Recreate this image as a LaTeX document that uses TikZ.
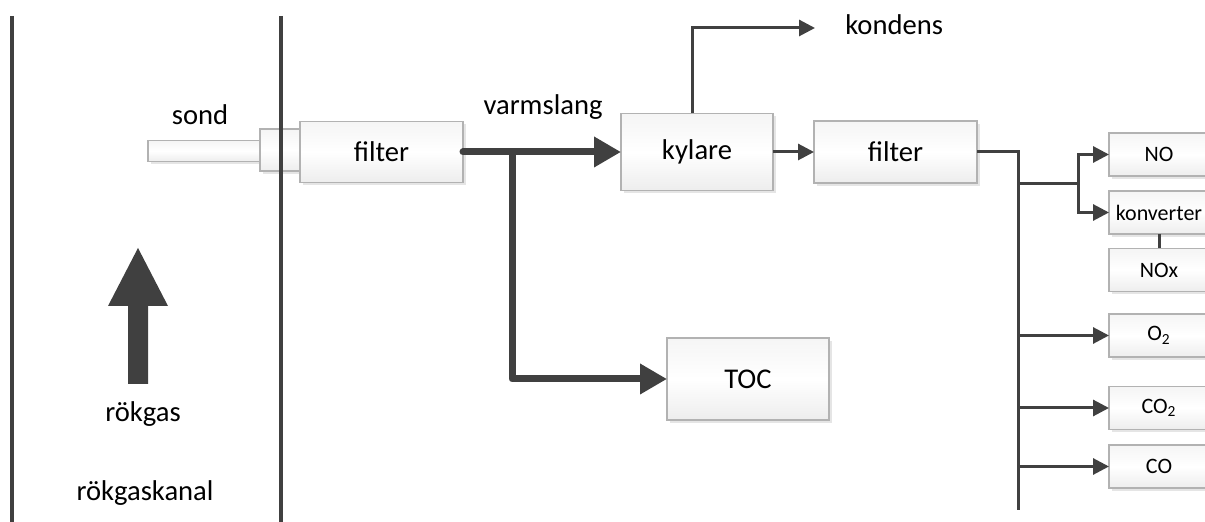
\documentclass[tikz,border=0pt]{standalone}
\usepackage{fontspec}
\setmainfont{Carlito}
\usetikzlibrary{arrows.meta,shadows}

\begin{document}
\begin{tikzpicture}[x=0.5pt,y=-0.5pt,
  box/.style={draw=gray!60, line width=0.7pt, top color=gray!8, bottom color=gray!14, middle color=white,
    drop shadow={shadow xshift=1.5pt, shadow yshift=-1.5pt, fill=gray!40, opacity=0.5},
    inner sep=0pt, outer sep=0pt, font=\fontsize{14.3}{17}\selectfont},
  unit/.style={box, minimum width=50pt, minimum height=21.5pt, font=\fontsize{11}{13}\selectfont},
  line/.style={ink, line width=1.5pt},
  pipe/.style={line, -{Triangle[length=8pt,width=8pt]}},
  hot/.style={ink, line width=3.5pt, line cap=round, line join=round, -{Triangle[length=13.5pt,width=14.5pt]}},
  lbl/.style={inner sep=0pt, font=\fontsize{14.3}{17}\selectfont}]
  \definecolor{ink}{RGB}{64,64,64}

  \fill[white] (0,0) rectangle (1205,522);
  \useasboundingbox (0,0) rectangle (1205,522);

  % probe and sampling line
  \node[box, minimum width=56pt, minimum height=10.5pt] (sond) at (204,151) {};
  \node[box, minimum width=20pt, minimum height=21pt] (collar) at (280,150) {};
  \node[box, minimum width=81.5pt, minimum height=30.5pt] (filterA) at (381.5,152) {filter};
  \node[box, minimum width=76pt, minimum height=38.5pt] (kylare) at (697,152) {kylare};
  \node[box, minimum width=81.5pt, minimum height=31pt] (filterB) at (895.5,152) {filter};
  \node[box, minimum width=81pt, minimum height=41pt] (toc) at (748,379) {TOC};

  % analysers
  \node[unit] (no) at (1159,154.5) {NO};
  \node[unit] (konv) at (1159,212.5) {konverter};
  \node[unit] (nox) at (1159,270) {NOx};
  \foreach \name/\txt/\row in {o2/O\textsubscript{2}/335.5, co2/CO\textsubscript{2}/408, co/CO/466.5}
    \node[unit] (\name) at (1159,\row) {\txt};

  \node[lbl] (sondlbl) at (200,115) {sond};
  \node[lbl] (varm) at (543,107) {varmslang};
  \node[lbl, anchor=west] (kondlbl) at (845,25) {kondens};
  \node[lbl] (gas) at (143,414) {rökgas};
  \node[lbl] (kanal) at (145,493) {rökgaskanal};

  \coordinate (tee) at (512,152);
  \coordinate (kond) at (815,28);
  \coordinate (bus) at (1018,510);
  \coordinate (split) at (1078,184);

  \draw[hot] (filterA.east) -- (kylare.west);
  \draw[hot] (tee) |- (toc.west);
  \draw[pipe] ([xshift=-2.5pt]kylare.north) |- (kond);
  \draw[pipe] (kylare.east) -- (filterB.west);
  \draw[line] (filterB.east) -| (bus);
  \draw[line] (split -| bus) -- (split);
  \draw[pipe] (split) |- (no.west);
  \draw[pipe] (split) |- (konv.west);
  \draw[line] (konv.south) -- (nox.north);
  \foreach \name in {o2,co2,co}
    \draw[pipe] (\name.west -| bus) -- (\name.west);

  % duct walls and gas flow
  \draw[ink, line width=2pt] (12,16) -- (12,530);
  \draw[ink, line width=2pt] (281,16) -- (281,530);
  \fill[ink] (128,384) -- (128,306) -- (108,306) -- (138,248) -- (168,306) -- (148,306) -- (148,384) -- cycle;
\end{tikzpicture}
\end{document}
